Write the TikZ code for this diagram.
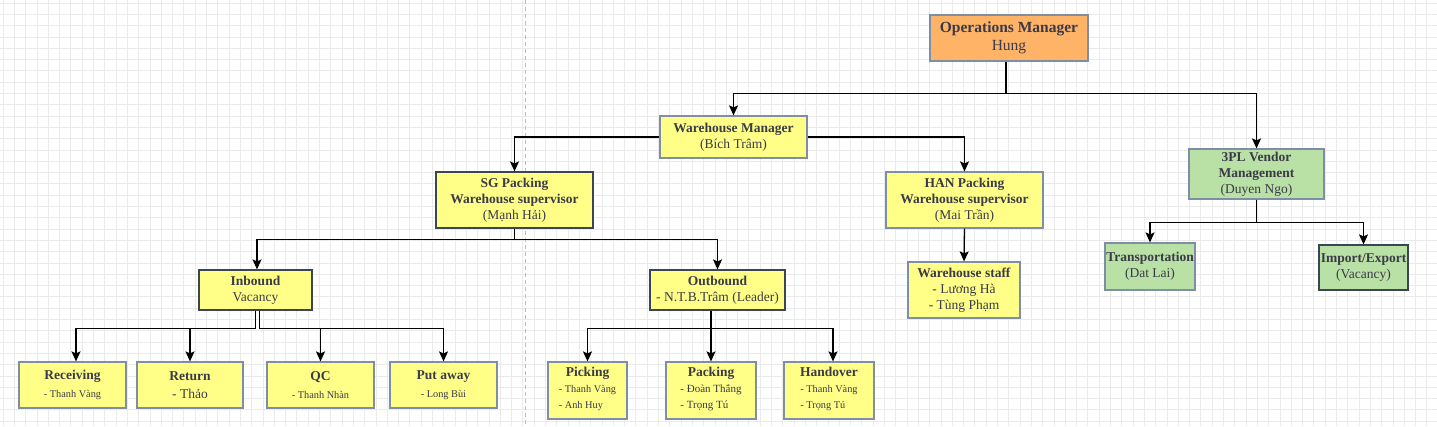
\documentclass[tikz,border=0pt]{standalone}
\usepackage{fontspec}
\setmainfont{Liberation Serif}
\usetikzlibrary{arrows.meta}
\definecolor{yelfill}{HTML}{FFFF88}
\definecolor{orfill}{HTML}{FFB366}
\definecolor{grfill}{HTML}{B9E0A5}
\definecolor{bordc}{HTML}{7D8EA6}
\definecolor{darkbord}{HTML}{3A4556}
\definecolor{txt}{HTML}{3A3A48}
\definecolor{gridc}{HTML}{EAEAEA}
\definecolor{dashc}{HTML}{BDBDBD}
\tikzset{
  box/.style={draw=bordc, line width=1.2pt, inner sep=0pt, align=center, text=txt,
    font=\fontsize{13.5}{16}\selectfont},
  yel/.style={box, fill=yelfill},
  org/.style={box, fill=orfill},
  grn/.style={box, fill=grfill},
  dark/.style={draw=darkbord},
  arr/.style={draw=black, line width=1.3pt, -{Stealth[length=10pt,width=9pt,inset=2pt]}},
}
\newcommand{\sm}{\fontsize{10.3}{16}\selectfont}
\newcommand{\smb}{\fontsize{11}{16}\selectfont}
\begin{document}
\begin{tikzpicture}[x=1pt,y=-1pt]
\useasboundingbox (0,0) rectangle (1437,426);
\fill[white] (0,0) rectangle (1437,426);
\foreach \g in {3,14.3,...,1437} \draw[gridc, line width=0.8pt] (\g,0) -- (\g,426);
\foreach \g in {3,14.3,...,426} \draw[gridc, line width=0.8pt] (0,\g) -- (1437,\g);
\draw[dashc, line width=1pt, dash pattern=on 4pt off 3pt] (525,0) -- (525,426);

% nodes
\node[org, minimum width=158pt, minimum height=46pt, font=\fontsize{15.5}{17.5}\selectfont] (om) at (1009,38)
  {\textbf{Operations Manager}\\Hung};
\node[yel, minimum width=147pt, minimum height=42pt] (wm) at (733.5,137)
  {\textbf{Warehouse Manager}\\(Bích Trâm)};
\node[yel, dark, minimum width=157pt, minimum height=56pt] (sg) at (514.5,200)
  {\textbf{SG Packing}\\\textbf{Warehouse supervisor}\\(Mạnh Hải)};
\node[yel, minimum width=157pt, minimum height=56pt] (han) at (964.5,200)
  {\textbf{HAN Packing}\\\textbf{Warehouse supervisor}\\(Mai Trần)};
\node[grn, minimum width=135pt, minimum height=50pt] (tpl) at (1256.5,174)
  {\textbf{3PL Vendor}\\\textbf{Management}\\(Duyen Ngo)};
\node[grn, minimum width=90pt, minimum height=47pt] (tr) at (1150,266.5)
  {\textbf{Transportation}\\(Dat Lai)};
\node[grn, dark, minimum width=89pt, minimum height=45pt] (ie) at (1363.5,267.5)
  {\textbf{Import/Export}\\(Vacancy)};
\node[yel, dark, minimum width=113pt, minimum height=40pt] (ib) at (255.5,290)
  {\textbf{Inbound}\\Vacancy};
\node[yel, dark, minimum width=135pt, minimum height=40pt] (ob) at (717.5,290)
  {\textbf{Outbound}\\- N.T.B.Trâm (Leader)};
\node[yel, minimum width=112pt, minimum height=56pt] (ws) at (964,290)
  {\textbf{Warehouse staff}\\- Lương Hà\\- Tùng Phạm};

\node[yel, minimum width=107pt, minimum height=46pt, font=\fontsize{13.5}{18}\selectfont] (rc) at (72.5,385)
  {\textbf{Receiving}\\{\sm - Thanh Vàng}};
\node[yel, minimum width=106pt, minimum height=46pt, font=\fontsize{13.5}{18}\selectfont] (rt) at (190,385)
  {\textbf{Return}\\- Thảo};
\node[yel, minimum width=107pt, minimum height=46pt, font=\fontsize{13.5}{18}\selectfont] (qc) at (320.5,385)
  {\textbf{QC}\\{\sm - Thanh Nhàn}};
\node[yel, minimum width=107pt, minimum height=46pt, font=\fontsize{13.5}{18}\selectfont] (pa) at (443.5,385)
  {\textbf{Put away}\\{\sm - Long Bùi}};

\node[yel, minimum width=79pt, minimum height=57pt] (pk) at (587.5,390.5)
  {\textbf{Picking}\\{\sm\begin{tabular}[t]{@{}l@{}}- Thanh Vàng\\- Anh Huy\end{tabular}}};
\node[yel, minimum width=90pt, minimum height=57pt] (pc) at (711,390.5)
  {\textbf{Packing}\\{\smb\begin{tabular}[t]{@{}l@{}}- Đoàn Thắng\\- Trọng Tú\end{tabular}}};
\node[yel, minimum width=90pt, minimum height=57pt] (ho) at (829,390.5)
  {\textbf{Handover}\\{\sm\begin{tabular}[t]{@{}l@{}}- Thanh Vàng\\- Trọng Tú\end{tabular}}};

% connectors
\draw[arr] ([xshift=-3pt]om.south) -- ++(0,32) -| (wm.north);
\draw[arr] ([xshift=-3pt]om.south) -- ++(0,32) -| (tpl.north);
\draw[arr] (wm.west) -| (sg.north);
\draw[arr] (wm.east) -| (han.north);
\draw[arr] (sg.south) -- ++(0,11) -| ([xshift=1.5pt]ib.north);
\draw[arr] (sg.south) -- ++(0,11) -| (ob.north);
\draw[arr] (han.south) -- (ws.north);
\draw[arr] (tpl.south) -- ++(0,23) -| (tr.north);
\draw[arr] (tpl.south) -- ++(0,23) -| (ie.north);
\draw[arr] (ib.south) -- ++(0,18) -| ([xshift=3.5pt]rc.north);
\draw[arr] (ib.south) -- ++(0,18) -| (rt.north);
\draw[arr] ([xshift=4pt]ib.south) -- ++(0,18) -| (qc.north);
\draw[arr] ([xshift=4pt]ib.south) -- ++(0,18) -| (pa.north);
\draw[arr] ([xshift=-6.5pt]ob.south) -- ++(0,18) -| (pk.north);
\draw[arr] ([xshift=-6.5pt]ob.south) -- ++(0,18) -| (pc.north);
\draw[arr] ([xshift=-6.5pt]ob.south) -- ++(0,18) -| ([xshift=4pt]ho.north);
\end{tikzpicture}
\end{document}
